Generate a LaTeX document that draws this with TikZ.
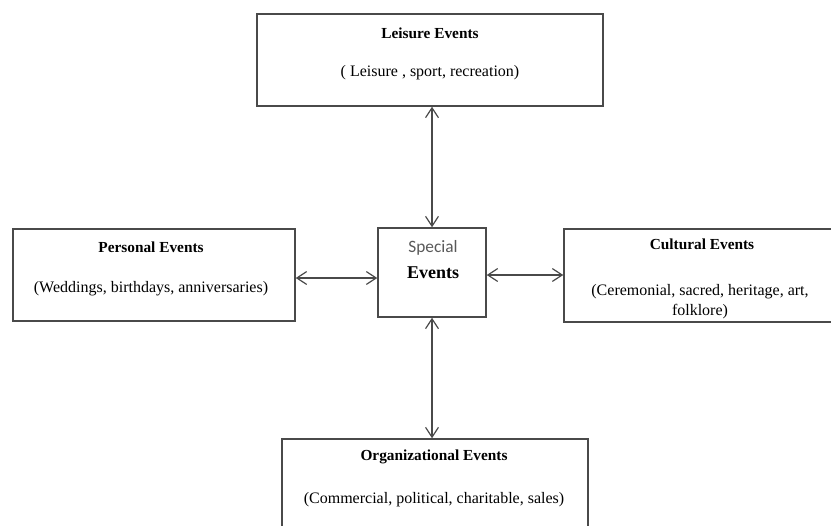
\documentclass[tikz,border=0pt]{standalone}
\usepackage{fontspec}
\setmainfont{Liberation Serif}
\newfontfamily\calfont{Carlito}
\usetikzlibrary{arrows.meta,positioning,calc}
\definecolor{evline}{HTML}{4A4A4A}
\definecolor{evgray}{HTML}{595959}

\begin{document}
\begin{tikzpicture}[x=0.75pt,y=-0.75pt,
      box/.style={draw=evline,line width=1.1pt,minimum width=#1,inner sep=0pt},
      ttl/.style={font=\fontsize{11.5}{13}\selectfont\bfseries,inner sep=0pt},
      sub/.style={font=\fontsize{12}{15}\selectfont,inner sep=0pt,align=center},
      arr/.style={{Straight Barb[length=2.6mm,width=3.4mm]}-{Straight Barb[length=2.6mm,width=3.4mm]},line width=0.9pt,draw=evline}]
    \useasboundingbox[fill=white] (0,0) rectangle (831,525);
    % outer boxes
    \node[box=346*0.75pt,minimum height=92*0.75pt] (leisure) at (430,60) {};
    \node[box=282*0.75pt,minimum height=92*0.75pt] (personal) at (154,275) {};
    \node[box=274*0.75pt,minimum height=93*0.75pt] (cultural) at (701,275.5) {};
    \node[box=306*0.75pt,minimum height=101*0.75pt] (organ) at (435,489.5) {};
    \node[box=108*0.75pt,minimum height=89*0.75pt] (special) at (432,272.5) {};
    % texts
    \node[ttl] (leisuret) at (430,33) {Leisure Events};
    \node[sub] (leisures) at (430,73) {( Leisure , sport, recreation)};
    \node[ttl] (personalt) at (151,247) {Personal Events};
    \node[sub] (personals) at (151,289) {(Weddings, birthdays, anniversaries)};
    \node[ttl] (culturalt) at (702,244) {Cultural Events};
    \node[sub] (culturals) at (700,302) {(Ceremonial, sacred, heritage, art,\\folklore)};
    \node[ttl] (organt) at (434,457) {Organizational Events};
    \node[sub] (organs) at (434,500) {(Commercial, political, charitable, sales)};
    \node[inner sep=0pt,text=evgray,font=\calfont\fontsize{13}{15}\selectfont] (speciala) at (433,248) {Special};
    \node[inner sep=0pt,font=\fontsize{13.5}{15}\selectfont\bfseries] (specialb) at (433,273) {Events};
    % links
    \draw[arr] (leisure.south -| special.north) -- (special.north);
    \draw[arr] (special.south) -- (special.south |- organ.north);
    \draw[arr] ([yshift=-5.5*0.75pt]personal.east |- special.west) -- ([yshift=-5.5*0.75pt]special.west);
    \draw[arr] ([yshift=-2.5*0.75pt]special.east) -- ([yshift=-2.5*0.75pt]special.east -| cultural.west);
  \end{tikzpicture}
\end{document}
